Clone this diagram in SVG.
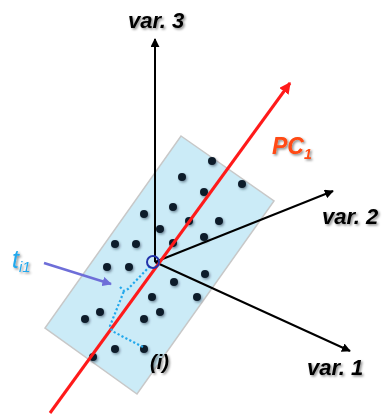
<svg xmlns="http://www.w3.org/2000/svg" width="385" height="417" viewBox="0 0 385 417">
  <defs>
    <filter id="sh" x="-20%" y="-20%" width="150%" height="150%">
      <feDropShadow dx="1.5" dy="1.5" stdDeviation="1" flood-color="#000" flood-opacity="0.45"/>
    </filter>
    <filter id="dsh" x="-50%" y="-50%" width="200%" height="200%">
      <feDropShadow dx="1.2" dy="1.5" stdDeviation="0.8" flood-color="#234" flood-opacity="0.5"/>
    </filter>
    <marker id="ab" viewBox="0 0 10 10" refX="9" refY="5" markerWidth="4.5" markerHeight="4.5" orient="auto" markerUnits="strokeWidth">
      <path d="M0,0 L10,5 L0,10 z" fill="#000"/>
    </marker>
    <marker id="ar" viewBox="0 0 10 10" refX="9" refY="5" markerWidth="3.8" markerHeight="3.8" orient="auto" markerUnits="strokeWidth">
      <path d="M0,0 L10,5 L0,10 z" fill="#ff1a1a"/>
    </marker>
    <marker id="ap" viewBox="0 0 10 10" refX="9" refY="5" markerWidth="3.8" markerHeight="3.8" orient="auto" markerUnits="strokeWidth">
      <path d="M0,0 L10,5 L0,10 z" fill="#6e6ed8"/>
    </marker>
  </defs>
  <style>
    .lbl { font-family: "Liberation Sans", Arial, sans-serif; font-weight: bold; font-style: italic; }
    .axis { stroke: #000; stroke-width: 2; fill: none; marker-end: url(#ab); }
    .dot { fill: #0d1b2a; filter: url(#dsh); }
  </style>

  <g id="plane">
    <polygon points="181,136 274,201 137,394 45,328" fill="#cbebf7" stroke="#c8c8c8" stroke-width="1.5"/>
  </g>

  <g id="dots">
    <circle class="dot" cx="212" cy="161" r="4"/>
    <circle class="dot" cx="182" cy="177" r="4"/>
    <circle class="dot" cx="242" cy="184" r="4"/>
    <circle class="dot" cx="204" cy="192" r="4"/>
    <circle class="dot" cx="173" cy="207" r="4"/>
    <circle class="dot" cx="144" cy="214" r="4"/>
    <circle class="dot" cx="189" cy="221" r="4"/>
    <circle class="dot" cx="219" cy="221" r="4"/>
    <circle class="dot" cx="160" cy="229" r="4"/>
    <circle class="dot" cx="173" cy="243" r="4"/>
    <circle class="dot" cx="204" cy="237" r="4"/>
    <circle class="dot" cx="115" cy="244" r="4"/>
    <circle class="dot" cx="136" cy="244" r="4"/>
    <circle class="dot" cx="107" cy="267" r="4"/>
    <circle class="dot" cx="129" cy="267" r="4"/>
    <circle class="dot" cx="205" cy="274" r="4"/>
    <circle class="dot" cx="174" cy="282" r="4"/>
    <circle class="dot" cx="152" cy="297" r="4"/>
    <circle class="dot" cx="197" cy="297" r="4"/>
    <circle class="dot" cx="100" cy="312" r="4"/>
    <circle class="dot" cx="160" cy="312" r="4"/>
    <circle class="dot" cx="85" cy="319" r="4"/>
    <circle class="dot" cx="144" cy="319" r="4"/>
    <circle class="dot" cx="115" cy="349" r="4"/>
    <circle class="dot" cx="144" cy="349" r="4"/>
    <circle class="dot" cx="93" cy="357" r="4"/>
  </g>

  <g id="connectors">
    <line class="axis" x1="155" y1="262" x2="155" y2="39"/>
    <line class="axis" x1="155" y1="262" x2="333" y2="191"/>
    <line class="axis" x1="155" y1="262" x2="350" y2="351"/>
    <line x1="50" y1="413" x2="290" y2="83" stroke="#ff1a1a" stroke-width="3" marker-end="url(#ar)"/>
    <g id="projection" fill="none" stroke="#22a8ec" stroke-width="2.2" stroke-dasharray="2.2 2.2">
      <polyline points="143,347 112,331 110,326 124,291"/>
      <polyline points="120,287 124,291 128,289 151,265"/>
    </g>
    <line x1="44" y1="263" x2="111" y2="284" stroke="#6e6ed8" stroke-width="2.5" marker-end="url(#ap)"/>
  </g>

  <g id="origin">
    <circle cx="153" cy="262" r="6" fill="none" stroke="#2233aa" stroke-width="2"/>
  </g>

  <g id="labels">
    <text class="lbl" x="128" y="28" font-size="22" fill="#000" filter="url(#sh)">var. 3</text>
    <text class="lbl" x="322" y="224" font-size="22" fill="#000" filter="url(#sh)">var. 2</text>
    <text class="lbl" x="307" y="375" font-size="22" fill="#000" filter="url(#sh)">var. 1</text>
    <text class="lbl" x="272" y="154" font-size="23" fill="#ff4a12" filter="url(#sh)">PC<tspan font-size="14" dy="5">1</tspan></text>
    <text x="12" y="268" font-family="Liberation Sans, Arial, sans-serif" font-style="italic" font-size="25" fill="#22a8ec" filter="url(#sh)">t<tspan font-size="15" dy="4">i1</tspan></text>
    <text class="lbl" x="150" y="369" font-size="20" fill="#000" filter="url(#sh)">(i)</text>
  </g>
</svg>
